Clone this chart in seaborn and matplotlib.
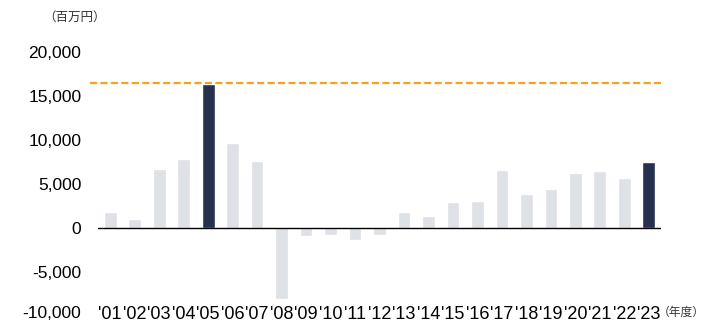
import matplotlib
matplotlib.use("Agg")
import matplotlib.pyplot as plt
import matplotlib.transforms as mtransforms
import pandas as pd
import seaborn as sns
from matplotlib.ticker import FuncFormatter

# fiscal years and values (million yen)
years = ["'01", "'02", "'03", "'04", "'05", "'06", "'07", "'08", "'09", "'10", "'11", "'12",
         "'13", "'14", "'15", "'16", "'17", "'18", "'19", "'20", "'21", "'22", "'23"]
values = [1770, 1050, 6740, 7800, 16400, 9700, 7650, -8030, -950, -830, -1400, -830,
          1780, 1360, 2920, 3100, 6550, 3830, 4400, 6290, 6440, 5650, 7470]
highlight = ["'05", "'23"]
peak_line = 16500

y_ticks = [-10000, -5000, 0, 5000, 10000, 15000, 20000]

df = pd.DataFrame({'year': years, 'value': values})
df['kind'] = ['hi' if y in highlight else 'base' for y in df['year']]

sns.set_style('white')
plt.rcParams['font.family'] = ['Liberation Sans', 'Noto Sans CJK JP', 'DejaVu Sans']

fig = plt.figure(figsize=(7.07, 3.22), dpi=100)
ax = fig.add_axes([0.1386, 0.0186, 0.935 - 0.1386, 0.8385 - 0.0186])

sns.barplot(data=df, x='year', y='value', hue='kind',
            palette={'base': '#dde1e6', 'hi': '#1f2d57'},
            dodge=False, width=0.52, legend=False, ax=ax)

ax.set_xlim(-0.5, len(years) - 0.5)
ax.set_ylim(-10000, 20000)
ax.set_yticks(y_ticks)
ax.yaxis.set_major_formatter(FuncFormatter(lambda v, p: f'{int(v):,}'))

# zero line and the dashed peak line
ax.axhline(0, color='black', lw=1.0, zorder=3)
ax.hlines(peak_line, -0.83, len(years) - 0.5, color='#f7a21b', lw=1.6,
          linestyle=(0, (3.2, 1.5)), clip_on=False, zorder=4)

for s in ax.spines.values():
    s.set_visible(False)
ax.set_xlabel('')
ax.set_ylabel('')
ax.tick_params(axis='y', length=0, labelsize=12.5, pad=12, colors='black')
ax.tick_params(axis='x', length=0, labelsize=13, pad=-7.5, colors='black')

# nudge the bottom y label up a touch so it stays inside the figure
lab = ax.get_yticklabels()[0]
lab.set_transform(lab.get_transform() + mtransforms.ScaledTranslation(0, 3 / 72, fig.dpi_scale_trans))

fig.text(0.061, 0.945, '（百万円）', fontsize=9, ha='left', va='center', color='#333333')
fig.text(0.997, 0.03, '（年度）', fontsize=8.5, ha='right', va='center', color='#333333')

fig.savefig('out.png', dpi=100)
